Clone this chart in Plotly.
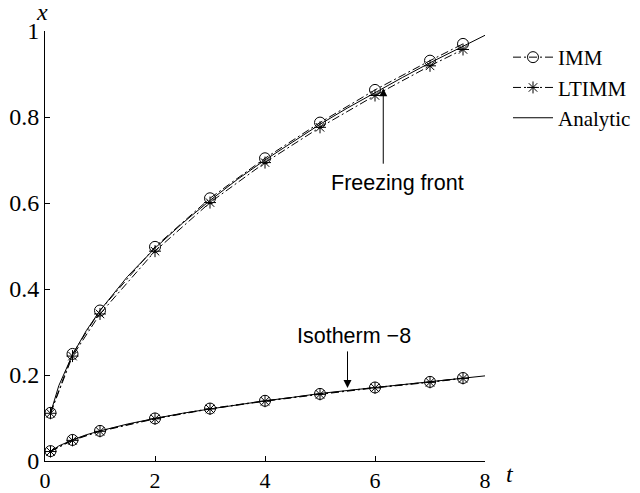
import plotly.graph_objects as go

# ---- data ----
t_markers = [0.1, 0.5, 1, 2, 3, 4, 5, 6, 7, 7.6]
front_imm = [0.112, 0.249, 0.350, 0.498, 0.611, 0.704, 0.787, 0.863, 0.931, 0.970]
front_ltimm = [0.111, 0.244, 0.342, 0.488, 0.601, 0.694, 0.776, 0.850, 0.919, 0.957]
iso_imm = [0.023, 0.049, 0.070, 0.099, 0.122, 0.140, 0.156, 0.171, 0.184, 0.193]
iso_ltimm = [0.022, 0.048, 0.069, 0.098, 0.121, 0.139, 0.155, 0.170, 0.183, 0.192]

t_analytic = [0.1, 0.25, 0.5, 0.75, 1, 1.5, 2, 2.5, 3, 3.5, 4, 4.5, 5, 5.5, 6, 6.5, 7, 7.5, 8]
front_analytic = [0.111, 0.175, 0.247, 0.303, 0.350, 0.429, 0.495, 0.553, 0.606, 0.655,
                  0.700, 0.742, 0.783, 0.821, 0.857, 0.892, 0.926, 0.958, 0.990]
iso_analytic = [0.022, 0.035, 0.049, 0.061, 0.070, 0.086, 0.099, 0.111, 0.121, 0.131,
                0.140, 0.148, 0.157, 0.164, 0.171, 0.178, 0.185, 0.192, 0.198]

x_ticks = [0, 2, 4, 6, 8]
x_ticktext = ["0", "2", "4", "6", "8"]
y_ticks = [0, 0.2, 0.4, 0.6, 0.8, 1]
y_ticktext = ["0", "0.2", "0.4", "0.6", "0.8", "1"]

serif = "Liberation Serif"
sans = "Liberation Sans"
dash = "8px,3px,2px,3px"

fig = go.Figure()

# Analytic (solid)
fig.add_trace(go.Scatter(x=t_analytic, y=front_analytic, mode="lines", name="Analytic",
                         line=dict(color="black", width=1), legendrank=3))
fig.add_trace(go.Scatter(x=t_analytic, y=iso_analytic, mode="lines", showlegend=False,
                         line=dict(color="black", width=1)))

# IMM
fig.add_trace(go.Scatter(x=t_markers, y=front_imm, mode="lines+markers", name="IMM",
                         line=dict(color="black", width=1, dash=dash),
                         marker=dict(symbol="circle-open", size=11, color="black",
                                     line=dict(width=1, color="black")),
                         legendrank=1))
fig.add_trace(go.Scatter(x=t_markers, y=iso_imm, mode="lines+markers", showlegend=False,
                         line=dict(color="black", width=1, dash=dash),
                         marker=dict(symbol="circle-open", size=11, color="black",
                                     line=dict(width=1, color="black"))))

# LTIMM
fig.add_trace(go.Scatter(x=t_markers, y=front_ltimm, mode="lines+markers", name="LTIMM",
                         line=dict(color="black", width=1, dash=dash),
                         marker=dict(symbol="asterisk-open", size=10, color="black",
                                     line=dict(width=1, color="black")),
                         legendrank=2))
fig.add_trace(go.Scatter(x=t_markers, y=iso_ltimm, mode="lines+markers", showlegend=False,
                         line=dict(color="black", width=1, dash=dash),
                         marker=dict(symbol="asterisk-open", size=10, color="black",
                                     line=dict(width=1, color="black"))))

annotations = [
    # Freezing front arrow
    dict(x=6.15, y=0.867, xref="x", yref="y", text="", showarrow=True,
         ax=0, ay=77, arrowhead=2, arrowsize=1.6, arrowwidth=1, arrowcolor="black"),
    dict(x=6.4, y=0.647, xref="x", yref="y", text="Freezing front", showarrow=False,
         font=dict(family=sans, size=21.5, color="black")),
    # Isotherm arrow
    dict(x=5.5, y=0.170, xref="x", yref="y", text="", showarrow=True,
         ax=0, ay=-38, arrowhead=2, arrowsize=1.6, arrowwidth=1, arrowcolor="black"),
    dict(x=5.62, y=0.291, xref="x", yref="y", text="Isotherm \u22128", showarrow=False,
         font=dict(family=sans, size=21.5, color="black")),
    # axis labels (pixel positions, converted below)
    dict(x=42, y=493 - 12, xref="paper", yref="paper", text="<i>x</i>", showarrow=False,
         xanchor="center", yanchor="middle",
         font=dict(family=serif, size=24, color="black")),
    dict(x=510, y=493 - 474, xref="paper", yref="paper", text="<i>t</i>", showarrow=False,
         xanchor="center", yanchor="middle",
         font=dict(family=serif, size=24, color="black")),
]

# convert pixel-based paper annotations
L, R, T, B = 45, 155, 31, 32
W, H = 640, 493
pw, ph = W - L - R, H - T - B
for a in annotations:
    if a["xref"] == "paper":
        a["x"] = (a["x"] - L) / pw
        a["y"] = (a["y"] - B) / ph

fig.update_layout(
    width=W, height=H,
    margin=dict(l=L, r=R, t=T, b=B, autoexpand=False),
    plot_bgcolor="white", paper_bgcolor="white",
    font=dict(family=serif, size=21, color="black"),
    showlegend=True,
    legend=dict(x=(508 - L) / pw, y=(461 - 37) / ph, xanchor="left", yanchor="top",
                bgcolor="rgba(0,0,0,0)", borderwidth=0, itemwidth=40,
                font=dict(family=serif, size=21, color="black")),
    xaxis=dict(range=[0, 8], tickvals=x_ticks, ticktext=x_ticktext,
               showgrid=False, zeroline=False, showline=True, linecolor="black",
               linewidth=1, ticks="inside", ticklen=5, tickcolor="black",
               tickfont=dict(family=serif, size=22)),
    yaxis=dict(range=[0, 1], tickvals=y_ticks, ticktext=y_ticktext,
               showgrid=False, zeroline=False, showline=True, linecolor="black",
               linewidth=1, ticks="inside", ticklen=5, tickcolor="black",
               tickfont=dict(family=serif, size=24)),
    annotations=annotations,
)

fig.write_html("out.html", config={"displayModeBar": False},
               post_script="document.body.style.margin='0px';document.body.style.overflow='hidden';")
